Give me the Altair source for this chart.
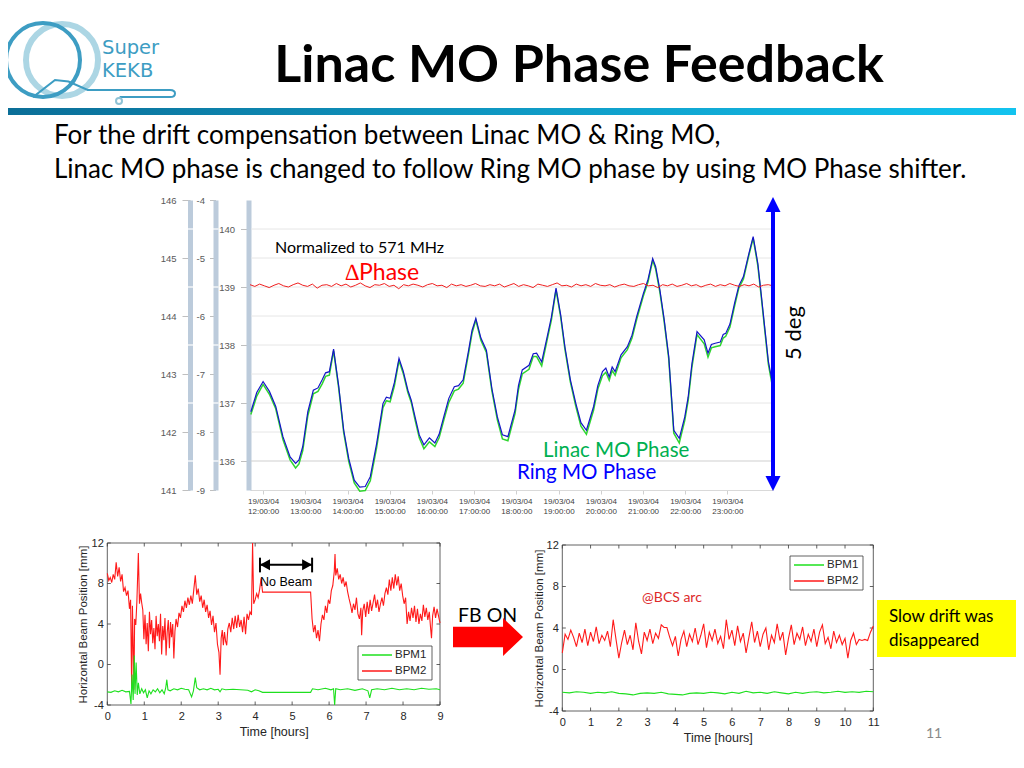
import altair as alt
import numpy as np
import pandas as pd

# ---------------- data ----------------
# Top chart: MO phases vs time of day (hours), 2019/03/04 -- main turning points
top_hour = [11.71, 12.00, 12.30, 12.64, 12.77, 12.94, 13.19, 13.40, 13.57, 13.67,
            13.91, 14.16, 14.42, 14.54, 14.84, 15.01, 15.22, 15.43, 15.60, 15.81,
            16.07, 16.28, 16.53, 16.74, 16.87, 17.04, 17.29, 17.55, 17.80, 17.97,
            18.14, 18.48, 18.60, 18.73, 18.94, 19.15, 19.41, 19.66, 19.83, 20.04,
            20.34, 20.63, 20.85, 21.01, 21.23, 21.40, 21.61, 21.73, 21.86, 21.99,
            22.16, 22.28, 22.45, 22.54, 22.71, 22.96, 23.17, 23.38, 23.51, 23.61,
            23.72, 23.89, 24.06]
ring_mo_phase = [136.85, 137.37, 136.94, 136.07, 135.96, 136.25, 137.22, 137.40, 137.54, 137.93,
                 136.53, 135.67, 135.56, 135.73, 136.99, 137.08, 137.77, 137.22, 136.76, 136.28,
                 136.31, 136.76, 137.28, 137.40, 137.91, 138.46, 137.91, 136.76, 136.42, 136.88,
                 137.57, 137.86, 137.71, 138.14, 138.98, 137.97, 136.99, 136.53, 136.94, 137.54,
                 137.54, 137.97, 138.49, 138.89, 139.49, 138.95, 137.80, 136.53, 136.39, 136.76,
                 137.68, 138.23, 138.09, 137.86, 138.03, 138.20, 138.72, 139.18, 139.58, 139.87,
                 139.41, 138.26, 137.37]
linac_mo_phase = [136.80, 137.32, 136.90, 136.02, 135.88, 136.18, 137.16, 137.33, 137.48, 137.90,
                  136.49, 135.62, 135.49, 135.66, 136.92, 137.02, 137.73, 137.18, 136.71, 136.21,
                  136.25, 136.70, 137.21, 137.34, 137.86, 138.43, 137.87, 136.71, 136.35, 136.82,
                  137.50, 137.80, 137.64, 138.09, 138.95, 137.93, 136.94, 136.46, 136.88, 137.47,
                  137.48, 137.92, 138.44, 138.85, 139.46, 138.91, 137.76, 136.48, 136.31, 136.70,
                  137.62, 138.18, 138.02, 137.79, 137.97, 138.15, 138.67, 139.14, 139.55, 139.84,
                  139.37, 138.22, 137.31]
# small wiggles between the turning points
wiggle_hour = [11.85, 12.15, 12.47, 12.85, 13.06, 13.30, 13.48, 13.79, 14.03, 14.29, 14.69, 14.92,
               15.11, 15.32, 15.51, 15.70, 15.94, 16.17, 16.40, 16.63, 16.95, 17.16, 17.42, 17.67,
               18.05, 18.30, 18.40, 18.83, 19.05, 19.28, 19.53, 19.93, 20.12, 20.20, 20.27, 20.48,
               20.74, 21.12, 21.30, 21.50, 22.07, 22.62, 22.83, 22.90, 23.06, 23.27, 23.80, 23.97]
ring_wiggle = [137.18, 137.20, 136.42, 136.02, 136.85, 137.26, 137.52, 137.30, 136.04, 135.55, 136.30, 137.10,
               137.35, 137.55, 137.05, 136.45, 136.40, 136.46, 137.08, 137.30, 138.25, 138.12, 137.25, 136.45,
               137.30, 137.65, 137.85, 138.48, 138.52, 137.40, 136.66, 137.30, 137.60, 137.45, 137.62, 137.83,
               138.17, 139.13, 139.35, 138.45, 137.10, 138.01, 138.05, 138.18, 138.36, 139.02, 138.88, 137.72]
linac_wiggle = [137.12, 137.15, 136.37, 135.95, 136.78, 137.20, 137.46, 137.26, 135.99, 135.48, 136.23, 137.04,
                137.29, 137.51, 137.01, 136.40, 136.33, 136.40, 137.01, 137.24, 138.20, 138.08, 137.21, 136.38,
                137.23, 137.58, 137.80, 138.43, 138.48, 137.36, 136.60, 137.24, 137.53, 137.39, 137.56, 137.78,
                138.12, 139.09, 139.31, 138.41, 137.04, 137.95, 137.99, 138.12, 138.31, 138.98, 138.84, 137.67]
delta_phase = [139.04, 139.01, 139.05, 139.02, 138.99, 139.03, 139.06, 139.02, 139.00, 139.04,
               139.07, 139.03, 139.01, 139.05, 138.98, 139.03, 139.04, 139.01, 139.06, 139.02,
               139.05, 139.00, 139.03, 139.07, 139.02, 138.99, 139.04, 139.03, 139.06, 139.01,
               139.03, 138.97, 139.04, 139.02, 139.05, 139.03, 139.00, 139.04, 139.06, 139.02,
               139.03, 138.99, 139.05, 139.02, 139.04, 139.01, 139.03, 139.06, 139.02, 139.01,
               139.04, 139.02, 139.05, 139.00, 139.03, 139.06, 139.01, 139.04, 139.02, 138.99,
               139.05, 139.03, 139.01, 139.04, 139.07, 139.02, 139.03, 139.00, 139.05, 139.02,
               139.04, 139.01, 139.06, 139.03, 139.02, 139.04, 139.00, 139.03, 139.05, 139.02,
               139.01, 139.04, 139.06, 139.02, 139.03, 138.99, 139.04, 139.02, 139.05, 139.01,
               139.03, 139.06, 139.02, 139.04, 139.00, 139.03, 139.05, 139.01, 139.04, 139.02,
               139.06, 139.03, 139.01, 139.04, 139.02, 139.05, 139.00, 139.03, 139.04, 139.02]
top_hour_ticks = [12, 13, 14, 15, 16, 17, 18, 19, 20, 21, 22, 23]
top_phase_ticks = [136, 137, 138, 139, 140]
top_grid = [136.5, 137.0, 137.5, 138.0, 138.5, 139.0, 139.5, 140.0]
axis1_ticks = [141, 142, 143, 144, 145, 146]
axis2_ticks = [-9, -8, -7, -6, -5, -4]

# Bottom-left: beam position before FB (hours, mm)
bl_hour_bpm2 = [0.00, 0.04, 0.08, 0.12, 0.16, 0.20, 0.24, 0.28, 0.32, 0.36, 0.40, 0.44, 0.48, 0.52, 0.56,
                0.60, 0.63, 0.66, 0.68, 0.70, 0.72, 0.74, 0.77, 0.80, 0.84, 0.87, 0.90, 0.93, 0.96, 0.99,
                1.02, 1.05, 1.08, 1.11, 1.14, 1.17, 1.20, 1.23, 1.26, 1.29, 1.32, 1.35, 1.38, 1.41, 1.44,
                1.47, 1.50, 1.53, 1.56, 1.59, 1.62, 1.65, 1.68, 1.71, 1.74, 1.77, 1.80, 1.83, 1.86, 1.90,
                1.94, 1.98, 2.02, 2.06, 2.10, 2.14, 2.18, 2.22, 2.26, 2.30, 2.34, 2.38, 2.42, 2.46, 2.50,
                2.54, 2.58, 2.62, 2.66, 2.70, 2.74, 2.78, 2.82, 2.86, 2.90, 2.94, 2.98, 3.02, 3.05, 3.08,
                3.11, 3.14, 3.17, 3.20, 3.23, 3.26, 3.30, 3.34, 3.38, 3.42, 3.46, 3.50, 3.54, 3.58, 3.62,
                3.66, 3.70, 3.74, 3.78, 3.82, 3.86, 3.90, 3.93, 3.96, 4.00, 4.04, 4.08, 4.12, 4.16, 4.20,
                5.50, 5.54, 5.58, 5.62, 5.66, 5.70, 5.74, 5.78, 5.82, 5.86, 5.90, 5.94, 5.98, 6.02, 6.06,
                6.10, 6.14, 6.16, 6.18, 6.22, 6.26, 6.30, 6.34, 6.38, 6.42, 6.46, 6.50, 6.54, 6.58, 6.62,
                6.66, 6.70, 6.74, 6.78, 6.82, 6.86, 6.88, 6.91, 6.95, 6.99, 7.03, 7.07, 7.11, 7.15, 7.19,
                7.23, 7.27, 7.31, 7.35, 7.39, 7.43, 7.47, 7.51, 7.55, 7.59, 7.63, 7.67, 7.71, 7.75, 7.79,
                7.83, 7.87, 7.91, 7.95, 7.99, 8.03, 8.07, 8.11, 8.15, 8.19, 8.23, 8.27, 8.31, 8.35, 8.39,
                8.43, 8.47, 8.51, 8.55, 8.59, 8.63, 8.67, 8.71, 8.75, 8.77, 8.80, 8.84, 8.88, 8.92, 8.96,
                9.00]
bl_bpm2 = [9.0, 8.3, 8.6, 8.1, 8.9, 8.4, 10.1, 8.7, 9.6, 8.2, 8.9, 7.2, 7.6, 6.8, 7.3,
           5.5, 6.4, -2.7, 5.8, 2.0, -2.5, 4.5, 3.9, 6.2, 11.0, 6.0, 7.0, 6.1, 5.4, 2.5,
           4.9, 2.0, 4.1, 1.3, 5.2, 3.0, 4.4, 2.1, 3.6, 1.5, 4.8, 2.8, 4.0, 2.3, 5.0,
           1.0, 3.8, 2.4, 4.6, 0.9, 3.2, 4.4, 1.6, 4.2, 2.7, 4.0, 0.6, 3.3, 4.5, 3.7,
           5.1, 4.6, 5.8, 5.2, 6.3, 5.6, 6.6, 5.9, 6.8, 6.0, 7.4, 8.8, 6.9, 7.5, 6.2,
           6.8, 5.6, 6.4, 5.2, 5.9, 4.6, 5.3, 3.9, 4.8, 3.2, 4.1, 2.0, 1.2, -1.0, 2.6,
           3.4, 1.9, 3.2, 2.3, 1.9, 3.5, 4.1, 3.2, 4.6, 3.5, 4.8, 3.6, 4.9, 3.7, 4.4,
           3.2, 4.7, 3.0, 5.0, 4.4, 5.2, 4.9, 12.0, 6.0, 6.4, 7.0, 6.6, 7.4, 8.5, 7.15,
           7.15, 4.5, 3.2, 3.9, 2.6, 3.4, 2.3, 4.0, 4.9, 4.4, 5.8, 5.1, 6.4, 6.0, 7.3,
           7.8, 9.2, 10.9, 8.8, 9.5, 8.4, 8.9, 8.0, 8.6, 7.7, 8.2, 7.2, 6.5, 5.9, 5.1,
           6.0, 5.4, 6.6, 5.0, 4.5, 5.6, 2.9, 5.3, 6.0, 4.7, 6.2, 5.0, 6.4, 5.3, 6.1,
           6.9, 5.6, 6.4, 5.2, 6.0, 6.6, 5.8, 7.0, 7.6, 6.9, 8.4, 7.3, 8.6, 7.5, 8.9,
           7.8, 8.7, 7.3, 8.0, 6.8, 6.0, 6.6, 4.0, 5.2, 4.3, 5.6, 4.6, 5.8, 4.2, 5.5,
           4.0, 5.0, 4.3, 5.9, 4.7, 5.6, 4.4, 5.2, 3.4, 2.6, 4.8, 5.7, 4.6, 5.5, 4.8,
           4.1]
bl_hour_bpm1 = [0.00, 0.10, 0.20, 0.30, 0.40, 0.50, 0.60, 0.64, 0.67, 0.70, 0.73, 0.75, 0.78, 0.81, 0.84,
                0.88, 0.93, 0.98, 1.03, 1.08, 1.13, 1.18, 1.24, 1.30, 1.36, 1.42, 1.48, 1.54, 1.58, 1.61,
                1.64, 1.70, 1.80, 1.90, 2.00, 2.10, 2.20, 2.28, 2.33, 2.38, 2.42, 2.50, 2.60, 2.70, 2.80,
                2.90, 3.00, 3.05, 3.10, 3.20, 3.40, 3.60, 3.80, 3.90, 4.00, 4.10, 4.20, 5.50, 5.55, 5.70,
                5.90, 6.05, 6.12, 6.15, 6.18, 6.30, 6.50, 6.70, 6.90, 7.05, 7.10, 7.15, 7.30, 7.50, 7.70,
                7.90, 8.10, 8.30, 8.50, 8.70, 8.90, 9.00]
bl_bpm1 = [-2.7, -2.75, -2.6, -2.7, -2.55, -2.7, -2.65, -3.9, -1.0, -3.5, 0.9, -2.9, 0.2, -3.0, -1.8,
           -2.9, -2.4, -2.8, -2.5, -3.3, -2.6, -2.9, -2.5, -2.7, -2.4, -2.8, -2.5, -2.9, -2.3, -1.5,
           -2.5, -2.6, -2.4, -2.5, -2.35, -2.45, -2.5, -3.2, -2.6, -1.3, -2.3, -2.5, -2.4, -2.5, -2.35,
           -2.5, -2.45, -2.7, -2.4, -2.5, -2.45, -2.5, -2.55, -2.7, -2.5, -2.6, -2.75, -2.75, -2.4, -2.5,
           -2.35, -2.5, -2.4, -4.0, -2.4, -2.5, -2.4, -2.55, -2.4, -2.6, -3.3, -2.5, -2.4, -2.5, -2.35,
           -2.5, -2.4, -2.5, -2.35, -2.45, -2.4, -2.5]
bl_hour_ticks = [0, 1, 2, 3, 4, 5, 6, 7, 8, 9]
pos_ticks = [-4, 0, 4, 8, 12]
no_beam = {"start": 4.13, "end": 5.54, "level": 9.85}

# Bottom-right: beam position with FB on (sampled evenly over 0..11 h)
br_bpm2 = [1.6, 3.4, 2.9, 3.8, 3.1, 2.2, 3.5, 2.6, 3.9, 2.3, 3.6, 2.7, 4.1, 2.5, 3.3, 2.8, 3.7, 2.2,
           4.8, 2.9, 1.1, 2.6, 3.8, 2.4, 3.3, 1.9, 4.5, 2.7, 1.5, 3.6, 2.8, 3.9, 2.5, 3.5, 3.0, 4.3,
           4.05, 4.05, 3.1, 2.3, 3.2, 1.3, 2.9, 3.7, 2.2, 3.4, 2.7, 4.0, 2.4, 3.3, 4.4, 2.1, 3.6, 2.8,
           3.9, 2.5, 3.2, 2.0, 4.8, 2.9, 3.8, 2.3, 4.2, 2.7, 3.5, 1.6, 3.1, 4.6, 2.6, 3.7, 2.2, 3.4,
           4.0, 1.9, 3.3, 2.6, 4.4, 2.8, 3.6, 1.4, 3.0, 4.3, 2.4, 3.5, 2.9, 4.1, 2.3, 3.4, 2.7, 3.9,
           2.2, 3.6, 4.3, 2.5, 3.1, 2.0, 3.7, 2.6, 3.3, 2.4, 3.0, 1.1, 2.8, 3.5, 2.4, 2.9, 2.8, 2.9,
           2.8, 3.6, 4.2]
br_bpm1 = [-2.2, -2.25, -2.15, -2.2, -2.3, -2.2, -2.25, -2.15, -2.3, -2.35, -2.45, -2.3, -2.25, -2.3, -2.2,
           -2.35, -2.4, -2.45, -2.3, -2.25, -2.3, -2.2, -2.25, -2.35, -2.2, -2.3, -2.1, -2.25, -2.2, -2.3,
           -2.15, -2.25, -2.35, -2.2, -2.3, -2.2, -2.15, -2.25, -2.2, -2.1, -2.2, -2.15, -2.2, -2.1, -2.15]
br_hour_ticks = [0, 1, 2, 3, 4, 5, 6, 7, 8, 9, 10, 11]

# ---------------- helpers ----------------
W, H = 1008, 752


def px(x):
    return x - 8


def py(y):
    return y - 8


ONE = alt.Data(values=[{}])
SLIDE_FONT = "Lato"
PLOT_FONT = "Liberation Sans"
INK = "#262626"


def txt(s, x, y, size, color="#000000", font=SLIDE_FONT, weight="normal",
        align="left", baseline="middle", angle=0):
    return alt.Chart(ONE).mark_text(
        text=s, fontSize=size, color=color, font=font, fontWeight=weight,
        align=align, baseline=baseline, angle=angle
    ).encode(x=alt.value(px(x)), y=alt.value(py(y)))


def shape(path, x, y, size, color, filled=True, stroke_width=1.0):
    kw = dict(shape=path, size=size, opacity=1)
    if filled:
        kw.update(filled=True, color=color, strokeWidth=0)
    else:
        kw.update(filled=False, color=color, strokeWidth=stroke_width)
    return alt.Chart(ONE).mark_point(**kw).encode(x=alt.value(px(x)), y=alt.value(py(y)))


def sc(domain, rng):
    return alt.Scale(domain=domain, range=rng, nice=False, zero=False)


layers = []

# ---------------- header ----------------
layers.append(
    alt.Chart(ONE).mark_rect(
        color=alt.Gradient(gradient="linear", x1=0, x2=1, y1=0, y2=0,
                           stops=[alt.GradientStop(color="#0b6e97", offset=0),
                                  alt.GradientStop(color="#13c4f0", offset=1)])
    ).encode(x=alt.value(-8), x2=alt.value(1016), y=alt.value(py(108)), y2=alt.value(py(115)))
)
layers.append(shape("circle", 62, 60, 72 ** 2, "#acd6e4", filled=False, stroke_width=6))
layers.append(shape("circle", 43, 60, 74 ** 2, "#3d9dc3", filled=False, stroke_width=4))
layers.append(shape("M-1,0.1 L-0.69,-0.14 L-0.5,-0.12 L-0.23,0 L0.93,0 Q1,0 1,0.05 Q1,0.1 0.93,0.1 L0.22,0.1",
                    104, 90, 142 ** 2, "#3d9dc3", filled=False, stroke_width=2))
layers.append(shape("circle", 119, 101, 36, "#8fc3d6", filled=False, stroke_width=2))
layers.append(txt("Super", 102, 48, 19.5, color="#3d9dc3", font="DejaVu Sans"))
layers.append(txt("KEKB", 102, 71, 19.5, color="#3d9dc3", font="DejaVu Sans"))

layers.append(txt("Linac MO Phase Feedback", 579, 66, 52, weight="bold", align="center"))
layers.append(txt("For the drift compensation between Linac MO & Ring MO,", 54, 136, 26))
layers.append(txt("Linac MO phase is changed to follow Ring MO phase by using MO Phase shifter.", 54, 170, 26))

# ---------------- top chart ----------------
TOP_X = ([11.69, 24.08], [px(250), px(773)])
TOP_Y = ([135.5, 140.5], [py(490), py(200)])

side_axis = dict(orient="left", domainColor="#bccbdb", domainWidth=5, tickColor="#bfbfbf",
                 tickWidth=1, labelFont=PLOT_FONT, labelFontSize=9.5, labelColor="#595959",
                 grid=False, title=None, labelFlush=False, labelOverlap=False,
                 labelExpr="'' + datum.value")

layers.append(alt.Chart(pd.DataFrame({"v": axis1_ticks})).mark_point(opacity=0).encode(
    y=alt.Y("v:Q", scale=sc([141, 146], [py(490), py(200)]),
            axis=alt.Axis(values=axis1_ticks, offset=-px(190), tickSize=8, labelPadding=6, **side_axis))))
layers.append(alt.Chart(pd.DataFrame({"v": axis2_ticks})).mark_point(opacity=0).encode(
    y=alt.Y("v:Q", scale=sc([-9, -4], [py(490), py(200)]),
            axis=alt.Axis(values=axis2_ticks, offset=-px(215.5), tickSize=6, labelPadding=5, **side_axis))))

df_phase = pd.DataFrame({"hour": top_hour + wiggle_hour,
                         "ring": ring_mo_phase + ring_wiggle,
                         "linac": linac_mo_phase + linac_wiggle}).sort_values("hour")
df_delta = pd.DataFrame({"hour": np.linspace(11.69, 24.08, len(delta_phase)), "delta": delta_phase})

# axes layer for the main phase scale (136..140) and time axis
layers.append(alt.Chart(df_phase).mark_point(opacity=0).encode(
    x=alt.X("hour:Q", scale=sc(*TOP_X),
            axis=alt.Axis(orient="bottom", offset=py(490) - H, values=top_hour_ticks,
                          labelExpr="['19/03/04', datum.value + ':00:00']",
                          domainColor="#d9d9d9", tickColor="#d0d0d0", tickSize=4,
                          labelFont=PLOT_FONT, labelFontSize=8, labelColor="#404040",
                          labelPadding=3, labelLineHeight=10, labelFlush=False,
                          labelOverlap=False, grid=False, title=None)),
    y=alt.Y("linac:Q", scale=sc(*TOP_Y),
            axis=alt.Axis(values=top_phase_ticks, offset=-px(248.5), tickSize=8, labelPadding=6,
                          **side_axis)),
))

layers.append(alt.Chart(pd.DataFrame({"v": top_grid})).mark_rule(color="#e6e6e6", strokeWidth=1).encode(
    y=alt.Y("v:Q", scale=sc(*TOP_Y), axis=None), x=alt.value(px(251)), x2=alt.value(px(773))))
layers.append(alt.Chart(pd.DataFrame({"v": [136.0]})).mark_rule(color="#d0d0d0", strokeWidth=1.2).encode(
    y=alt.Y("v:Q", scale=sc(*TOP_Y), axis=None), x=alt.value(px(251)), x2=alt.value(px(773))))
for xa, xb in ((187, 193.5), (212.5, 218.5)):
    layers.append(alt.Chart(pd.DataFrame({"v": top_phase_ticks})).mark_rule(color="white", strokeWidth=1.2).encode(
        y=alt.Y("v:Q", scale=sc(*TOP_Y), axis=None), x=alt.value(px(xa)), x2=alt.value(px(xb))))

layers.append(alt.Chart(df_phase).mark_line(color="#2fd52f", strokeWidth=1.5).encode(
    x=alt.X("hour:Q", scale=sc(*TOP_X), axis=None), y=alt.Y("linac:Q", scale=sc(*TOP_Y), axis=None)))
layers.append(alt.Chart(df_phase).mark_line(color="#1414c8", strokeWidth=1.2).encode(
    x=alt.X("hour:Q", scale=sc(*TOP_X), axis=None), y=alt.Y("ring:Q", scale=sc(*TOP_Y), axis=None)))
layers.append(alt.Chart(df_delta).mark_line(color="#f02020", strokeWidth=1).encode(
    x=alt.X("hour:Q", scale=sc(*TOP_X), axis=None), y=alt.Y("delta:Q", scale=sc(*TOP_Y), axis=None)))

# annotations of the top chart
layers.append(txt("Normalized to 571 MHz", 275, 248, 16))
layers.append(txt("\u2206Phase", 345, 273, 23, color="#ff0000"))
layers.append(txt("Linac MO Phase", 543, 451, 20.5, color="#00b050"))
layers.append(txt("Ring MO Phase", 517, 473, 20.5, color="#0000ff"))
layers.append(
    alt.Chart(ONE).mark_rule(color="#0000ff", strokeWidth=4).encode(
        x=alt.value(px(773)), y=alt.value(py(208)), y2=alt.value(py(480)))
)
layers.append(shape("M0,0 L-0.5,1 L0.5,1 Z", 773, 197, 30 ** 2, "#0000ff"))
layers.append(shape("M0,0 L-0.5,-1 L0.5,-1 Z", 773, 491, 30 ** 2, "#0000ff"))
layers.append(txt("5 deg", 794, 333, 22, align="center", angle=270))

# ---------------- bottom charts ----------------
BL_X = ([0, 9], [px(107.3), px(440)])
BL_Y = ([-4, 12], [py(705), py(543)])
BR_X = ([0, 11], [px(562.3), px(873.3)])
BR_Y = ([-4, 12], [py(711), py(545)])


def matlab_x_axis(values, y_page, title_pad):
    return alt.Axis(orient="bottom", offset=py(y_page) - H, values=values, domain=False, ticks=False,
                    labelPadding=5, labelFont=PLOT_FONT, labelFontSize=11, labelColor=INK,
                    labelFlush=False, labelOverlap=False, grid=False, title="Time [hours]",
                    titleFont=PLOT_FONT, titleFontSize=12.5, titleFontWeight="normal",
                    titleColor=INK, titlePadding=title_pad, labelExpr="'' + datum.value")


def matlab_y_axis(x_page, title_pad):
    return alt.Axis(orient="left", offset=-px(x_page), values=pos_ticks, domain=False, ticks=False,
                    labelPadding=4, labelFont=PLOT_FONT, labelFontSize=11, labelColor=INK,
                    labelFlush=False, labelOverlap=False, grid=False,
                    title="Horizontal Beam Position [mm]", titleFont=PLOT_FONT, titleFontSize=11.5,
                    titleFontWeight="normal", titleColor=INK, titlePadding=title_pad,
                    labelExpr="'' + datum.value")


def frame_layers(X, Y, x_ticks):
    box = alt.Chart(pd.DataFrame({"x0": [X[0][0]], "x1": [X[0][1]], "y0": [Y[0][0]], "y1": [Y[0][1]]})).mark_rect(
        fillOpacity=0, stroke="#3a3a3a", strokeWidth=0.8).encode(
        x=alt.X("x0:Q", scale=sc(*X), axis=None), x2="x1:Q",
        y=alt.Y("y0:Q", scale=sc(*Y), axis=None), y2="y1:Q")
    xt = pd.DataFrame({"t": x_ticks})
    yt = pd.DataFrame({"v": pos_ticks})
    r0, r1 = X[1]
    b, t = Y[1]
    out = [box]
    for y_a, y_b in ((b, b - 3.5), (t, t + 3.5)):
        out.append(alt.Chart(xt).mark_rule(color="#3a3a3a", strokeWidth=0.8).encode(
            x=alt.X("t:Q", scale=sc(*X), axis=None), y=alt.value(y_a), y2=alt.value(y_b)))
    for x_a, x_b in ((r0, r0 + 3.5), (r1, r1 - 3.5)):
        out.append(alt.Chart(yt).mark_rule(color="#3a3a3a", strokeWidth=0.8).encode(
            y=alt.Y("v:Q", scale=sc(*Y), axis=None), x=alt.value(x_a), x2=alt.value(x_b)))
    return out


# bottom-left
df_bl2 = pd.DataFrame({"hour": bl_hour_bpm2, "pos": bl_bpm2})
df_bl1 = pd.DataFrame({"hour": bl_hour_bpm1, "pos": bl_bpm1})
layers += frame_layers(BL_X, BL_Y, bl_hour_ticks)
layers.append(alt.Chart(df_bl2).mark_line(color="#ff1a1a", strokeWidth=1.1).encode(
    x=alt.X("hour:Q", scale=sc(*BL_X), axis=matlab_x_axis(bl_hour_ticks, 705, 4)),
    y=alt.Y("pos:Q", scale=sc(*BL_Y), axis=matlab_y_axis(107.3, 3))))
layers.append(alt.Chart(df_bl1).mark_line(color="#1ee01e", strokeWidth=1.1).encode(
    x=alt.X("hour:Q", scale=sc(*BL_X), axis=None), y=alt.Y("pos:Q", scale=sc(*BL_Y), axis=None)))

nb = pd.DataFrame({"a": [no_beam["start"]], "b": [no_beam["end"]], "v": [no_beam["level"]],
                   "lo": [no_beam["level"] - 0.75], "hi": [no_beam["level"] + 0.7],
                   "mid": [(no_beam["start"] + no_beam["end"]) / 2], "tv": [8.1]})
layers.append(alt.Chart(nb).mark_rule(color="black", strokeWidth=2).encode(
    x=alt.X("a:Q", scale=sc(*BL_X), axis=None), x2="b:Q", y=alt.Y("v:Q", scale=sc(*BL_Y), axis=None)))
for f in ("a", "b"):
    layers.append(alt.Chart(nb).mark_rule(color="black", strokeWidth=2).encode(
        x=alt.X(f + ":Q", scale=sc(*BL_X), axis=None), y=alt.Y("lo:Q", scale=sc(*BL_Y), axis=None), y2="hi:Q"))
for f, path in (("a", "M0,0 L1,-0.55 L1,0.55 Z"), ("b", "M0,0 L-1,-0.55 L-1,0.55 Z")):
    layers.append(alt.Chart(nb).mark_point(shape=path, size=400, filled=True, color="black",
                                           opacity=1, strokeWidth=0).encode(
        x=alt.X(f + ":Q", scale=sc(*BL_X), axis=None), y=alt.Y("v:Q", scale=sc(*BL_Y), axis=None)))
layers.append(alt.Chart(nb).mark_text(text="No Beam", font=PLOT_FONT, fontSize=12.5, color="black",
                                      align="center", baseline="middle").encode(
    x=alt.X("mid:Q", scale=sc(*BL_X), axis=None), y=alt.Y("tv:Q", scale=sc(*BL_Y), axis=None)))

# bottom-right
df_br2 = pd.DataFrame({"hour": np.linspace(0, 11, len(br_bpm2)), "pos": br_bpm2})
df_br1 = pd.DataFrame({"hour": np.linspace(0, 11, len(br_bpm1)), "pos": br_bpm1})
layers += frame_layers(BR_X, BR_Y, br_hour_ticks)
layers.append(alt.Chart(df_br2).mark_line(color="#ff1a1a", strokeWidth=1.1).encode(
    x=alt.X("hour:Q", scale=sc(*BR_X), axis=matlab_x_axis(br_hour_ticks, 711, 4)),
    y=alt.Y("pos:Q", scale=sc(*BR_Y), axis=matlab_y_axis(562.3, 2))))
layers.append(alt.Chart(df_br1).mark_line(color="#1ee01e", strokeWidth=1.1).encode(
    x=alt.X("hour:Q", scale=sc(*BR_X), axis=None), y=alt.Y("pos:Q", scale=sc(*BR_Y), axis=None)))
layers.append(alt.Chart(pd.DataFrame({"t": [3.88], "v": [6.9]})).mark_text(
    text="@BCS arc", font=SLIDE_FONT, fontSize=14, color="#dd2a2a", align="center", baseline="middle").encode(
    x=alt.X("t:Q", scale=sc(*BR_X), axis=None), y=alt.Y("v:Q", scale=sc(*BR_Y), axis=None)))


# ---------------- legends (drawn boxes) ----------------
def legend_box(x0, x1, y0, y1, row1, row2):
    out = [alt.Chart(ONE).mark_rect(fill="white", stroke="#3a3a3a", strokeWidth=0.8).encode(
        x=alt.value(px(x0)), x2=alt.value(px(x1)), y=alt.value(py(y0)), y2=alt.value(py(y1)))]
    for row, col, name in ((row1, "#1ee01e", "BPM1"), (row2, "#ff1a1a", "BPM2")):
        out.append(alt.Chart(ONE).mark_rule(color=col, strokeWidth=1.5).encode(
            x=alt.value(px(x0 + 4)), x2=alt.value(px(x0 + 34)), y=alt.value(py(row))))
        out.append(txt(name, x0 + 37, row, 11.5, color=INK, font=PLOT_FONT))
    return out


layers += legend_box(358, 432, 646, 680, 655, 671)
layers += legend_box(790, 863, 556, 590, 565, 581)

# ---------------- FB ON arrow, note box, page number ----------------
layers.append(txt("FB ON", 458, 616, 19.5))
layers.append(shape("M-1,-0.29 L0.43,-0.29 L0.43,-0.54 L1,0 L0.43,0.54 L0.43,0.29 L-1,0.29 Z",
                    488, 637, 70 ** 2, "#ff0000"))
layers.append(
    alt.Chart(ONE).mark_rect(color="#ffff00").encode(
        x=alt.value(px(877)), x2=alt.value(px(1018)), y=alt.value(py(600)), y2=alt.value(py(657)))
)
layers.append(txt("Slow drift was", 889, 617, 17))
layers.append(txt("disappeared", 889, 641, 17))
layers.append(txt("11", 934, 734, 14, color="#898989", align="center"))

chart = alt.layer(*layers).resolve_scale(
    x="independent", y="independent"
).resolve_axis(
    x="independent", y="independent"
).properties(
    width=W, height=H, autosize=alt.AutoSizeParams(type="none"), padding=0, background="white"
).configure_view(stroke=None)

chart.save("out.html", embed_options={"renderer": "svg", "actions": False})
